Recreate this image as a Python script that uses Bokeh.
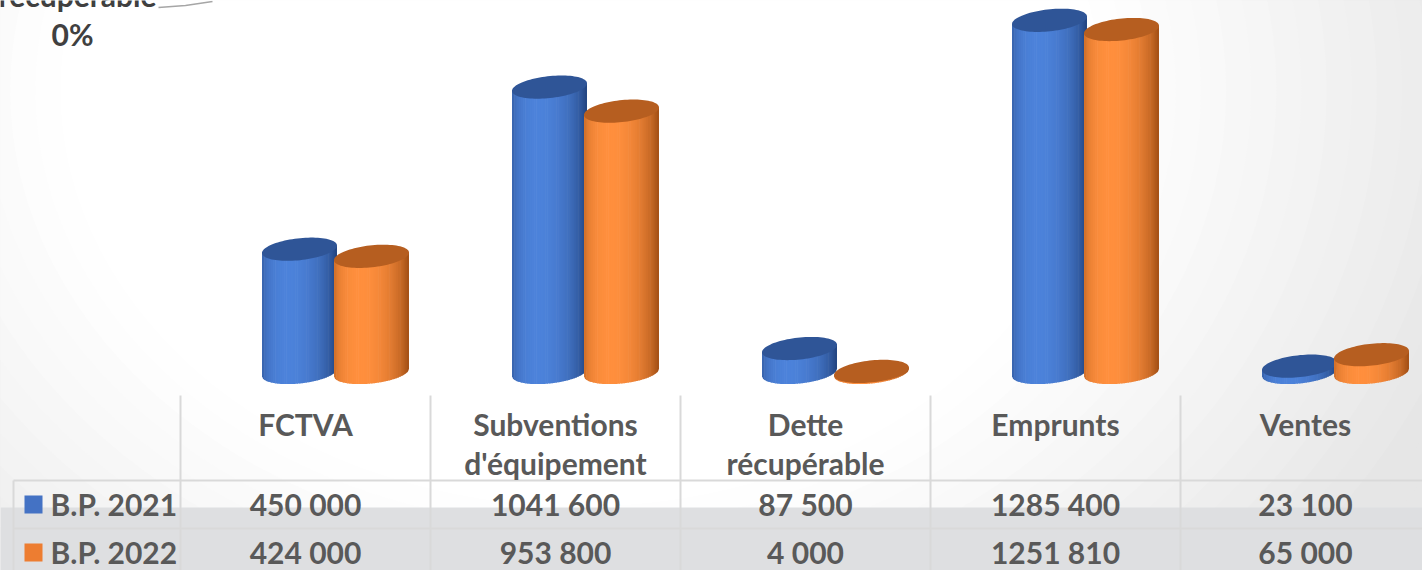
import numpy as np
from bokeh.plotting import figure
from bokeh.models import Range1d
from bokeh.core.properties import value
from bokeh.embed import file_html
from bokeh.resources import INLINE

# ---------------- data ----------------
categories = ["FCTVA", "Subventions\nd'équipement", "Dette\nrécupérable", "Emprunts", "Ventes"]
series_names = ["B.P. 2021", "B.P. 2022"]
bp2021 = [450000, 1041600, 87500, 1285400, 23100]
bp2022 = [424000, 953800, 4000, 1251810, 65000]
series_colors = ["#4472C4", "#ED7D31"]
pie_label = "récupérable"
pie_pct = "0%"

# ---------------- layout helpers (pixel <-> data) ----------------
W, H = 1422, 570
PX_PER_CAT = 250.0      # pixels per category column
PX_PER_VAL = 0.000274   # pixels per unit of value
LEFT_PAGE = 180.0       # x of the first table column
BASE_PAGE = 372.0       # y of the value 0

def X(px):
    return (px - LEFT_PAGE) / PX_PER_CAT

def Y(py):
    return (BASE_PAGE - py) / PX_PER_VAL

def DX(d):
    return d / PX_PER_CAT

def DY(d):
    return d / PX_PER_VAL

p = figure(width=W, height=H,
           x_range=Range1d(X(0), X(W)), y_range=Range1d(Y(H), Y(0)),
           output_backend="svg", toolbar_location=None, min_border=0,
           x_axis_location=None, y_axis_location=None)
p.grid.visible = False
p.outline_line_color = None
p.background_fill_color = "white"
p.border_fill_color = "white"

FONT = value("Lato")
TXT = "#595959"
FS = "30px"

# ---------------- background (soft radial gradient) ----------------
def hexgrey(g):
    g = int(round(g))
    return "#%02x%02x%02x" % (g, g, g)

radii = np.linspace(1500, 520, 40)
for r in radii:
    t = np.clip((r - 520) / (950 - 520), 0, 1)
    g = 255 - 25 * t ** 1.1
    p.ellipse(x=X(580), y=Y(90), width=2 * r, height=2 * 0.8 * r,
              width_units="screen", height_units="screen",
              fill_color=hexgrey(g), line_color=None)

# bottom grey band
p.quad(left=X(0), right=X(1430), bottom=Y(580), top=Y(507),
       fill_color="#dedfe1", line_color=None)

# ---------------- data table grid ----------------
grid_col = "#d9d9d9"
n = len(categories)
for i in range(n):
    p.segment(x0=i, y0=Y(395), x1=i, y1=Y(575), line_color=grid_col, line_width=2)
p.segment(x0=X(13), y0=Y(480), x1=X(13), y1=Y(575), line_color=grid_col, line_width=2)
for yy in (480, 528):
    p.segment(x0=X(13), y0=Y(yy), x1=X(1430), y1=Y(yy), line_color=grid_col, line_width=2)

# ---------------- 3D cylinders ----------------
A = 37.5     # half width in px
B = 11.0     # half height of ellipse in px
S = 0.10     # tilt of ellipses
NSTRIP = 34
centers_px = [119.0, 191.0]   # offsets from column left edge
shade_pairs = [("#1f3f78", "#4c82da"), ("#9a4a12", "#ff8f3d")]
top_colors = ["#2f5597", "#b65e20"]

def hex2rgb(h):
    h = h.lstrip("#")
    return np.array([int(h[k:k + 2], 16) for k in (0, 2, 4)], dtype=float)

def rgb2hex(c):
    c = np.clip(np.round(c), 0, 255).astype(int)
    return "#%02x%02x%02x" % tuple(c)

def strip_colors(dark, light, nstrip):
    u = (np.arange(nstrip) + 0.5) / nstrip
    nx = 2 * u - 1
    nz = np.sqrt(1 - nx ** 2)
    L = np.array([-0.32, 1.0])
    L = L / np.linalg.norm(L)
    I = 0.12 + 0.88 * np.clip(nx * L[0] + nz * L[1], 0, 1)
    d, l = hex2rgb(dark), hex2rgb(light)
    return [rgb2hex(d + (l - d) * k) for k in I]

edges = np.linspace(-A, A, NSTRIP + 1)

def bottom_off(d):
    return B * np.sqrt(np.clip(1 - (d / A) ** 2, 0, 1)) - S * d

series_vals = [bp2021, bp2022]
for i in range(n):
    for s in range(2):
        v = series_vals[s][i]
        cx = X(LEFT_PAGE + 250 * i + centers_px[s])
        cols = strip_colors(shade_pairs[s][0], shade_pairs[s][1], NSTRIP)
        xs, ys = [], []
        for j in range(NSTRIP):
            d0 = edges[j]
            d1 = edges[j + 1] + (0.6 if j < NSTRIP - 1 else 0)
            d1c = min(d1, A)
            sub = np.linspace(d0, d1c, 4)
            xb = [cx + DX(d) for d in sub]
            yb = [-DY(bottom_off(d)) for d in sub]
            xs.append([cx + DX(d0), cx + DX(d1c)] + xb[::-1])
            ys.append([v + DY(S * d0), v + DY(S * d1c)] + yb[::-1])
        p.patches(xs=xs, ys=ys, fill_color=cols, line_color=None)
        t = np.linspace(0, 2 * np.pi, 90)
        ex = cx + DX(A * np.cos(t))
        ey = v + DY(B * np.sin(t) + S * A * np.cos(t))
        p.patch(x=ex, y=ey, fill_color=top_colors[s], line_color=None)

# ---------------- table text ----------------
def fmt(v):
    s = str(v)
    return s[:-3] + " " + s[-3:] if len(s) > 3 else s

hx, hy, htxt = [], [], []
for i, c in enumerate(categories):
    for k, line in enumerate(c.split("\n")):
        hx.append(i + 0.5)
        hy.append(Y(423 + 39 * k))
        htxt.append(line)
p.text(x=hx, y=hy, text=htxt, text_font=FONT, text_font_style="bold",
       text_font_size=FS, text_color=TXT, text_align="center",
       text_baseline="middle")

row_y = [503, 551]
sq_y = [504, 552]
for s in range(2):
    p.rect(x=X(33), y=Y(sq_y[s]), width=18, height=18, width_units="screen",
           height_units="screen", fill_color=series_colors[s], line_color=None)
    p.text(x=[X(50)], y=[Y(row_y[s])], text=[series_names[s]], text_font=FONT,
           text_font_style="bold", text_font_size=FS, text_color=TXT,
           text_align="left", text_baseline="middle")
    p.text(x=[i + 0.5 for i in range(n)], y=[Y(row_y[s])] * n,
           text=[fmt(v) for v in series_vals[s]], text_font=FONT,
           text_font_style="bold", text_font_size=FS, text_color=TXT,
           text_align="center", text_baseline="middle")

# ---------------- cut-off pie label at top-left ----------------
p.line(x=[X(158), X(185), X(212)], y=[Y(7), Y(5), Y(1)],
       line_color="#a6a6a6", line_width=1.5)
p.text(x=[X(156)], y=[Y(12)], text=[pie_label], text_font=FONT,
       text_font_style="bold", text_font_size=FS, text_color="#404040",
       text_align="right", text_baseline="bottom")
p.text(x=[X(72)], y=[Y(33)], text=[pie_pct], text_font=FONT,
       text_font_style="bold", text_font_size=FS, text_color="#404040",
       text_align="center", text_baseline="middle")

open("out.html", "w").write(file_html(p, INLINE))
